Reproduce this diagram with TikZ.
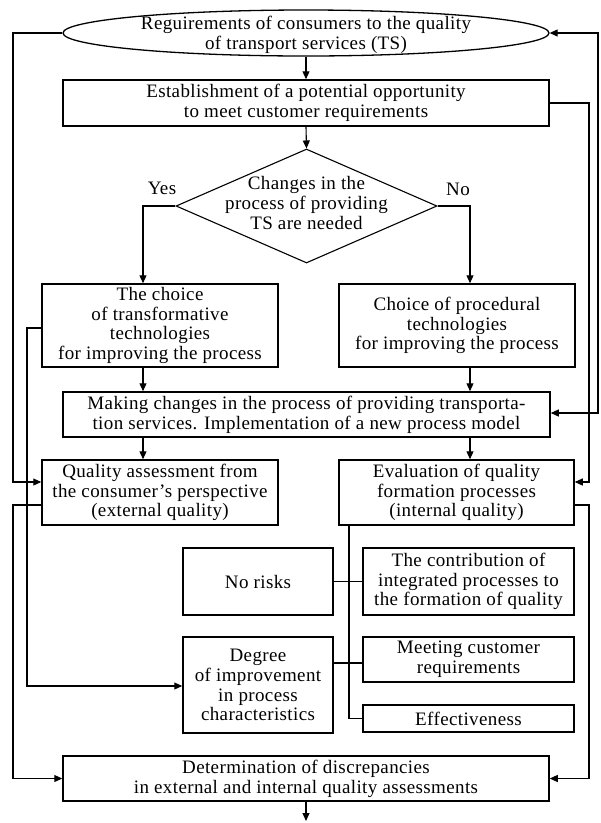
\documentclass[tikz,border=0pt]{standalone}
\usepackage{fontspec}
\setmainfont{Liberation Serif}[LetterSpace=2]
\usetikzlibrary{shapes.geometric,arrows.meta}
\begin{document}
\begin{tikzpicture}[x=1pt,y=-1pt,
  every node/.style={font=\fontsize{19}{19.8}\selectfont, align=center, inner sep=0pt},
  box/.style={draw, line width=1.5pt, rectangle},
  conn/.style={line width=1.1pt},
  arr/.style={line width=1.1pt, -{Triangle[length=8pt,width=7pt]}},
  barr/.style={line width=1.1pt, {Triangle[length=8pt,width=7pt]}-{Triangle[length=8pt,width=7pt]}}
]
\useasboundingbox (0,0) rectangle (601,823);

% nodes
\node[draw, ellipse, line width=1.3pt, minimum width=486pt, minimum height=46pt] (req) at (306,33) {};
\node (reqt) at (306,35) {Reguirements of consumers to the quality\\of transport services (TS)};

\node[box, minimum width=486pt, minimum height=46pt] (est) at (306,103)
  {Establishment of a potential opportunity\\to meet customer requirements};

\node[draw, diamond, line width=1.1pt, aspect=2.29, minimum width=261pt, minimum height=114pt] (dia) at (306.5,206) {};
\node (diat) at (306.5,203) {Changes in the\\process of providing\\TS are needed};

\node (yes) at (162,188) {Yes};
\node (no) at (458,189) {No};

\node[box, minimum width=236pt, minimum height=83pt] (choiceT) at (160,325.5)
  {The choice\\of transformative\\technologies\\for improving the process};
\node[box, minimum width=236pt, minimum height=83pt] (choiceP) at (457,325.5)
  {Choice of procedural\\technologies\\for improving the process};

\node[box, minimum width=487pt, minimum height=45pt] (making) at (306.5,414.5)
  {Making changes in the process of providing transporta-\\tion services. Implementation of a new process model};

\node[box, minimum width=236pt, minimum height=65pt] (quality) at (160,492.5)
  {Quality assessment from\\the consumer's perspective\\(external quality)};
\node[box, minimum width=235pt, minimum height=65pt] (eval) at (456.5,492.5)
  {Evaluation of quality\\formation processes\\(internal quality)};

\node[box, minimum width=150pt, minimum height=67pt] (norisk) at (258,581.5) {No risks};
\node[box, minimum width=211pt, minimum height=67pt] (contrib) at (468.5,581.5)
  {The contribution of\\integrated processes to\\the formation of quality};
\node[box, minimum width=150pt, minimum height=96pt] (degree) at (258,685)
  {Degree\\of improvement\\in process\\characteristics};
\node[box, minimum width=211pt, minimum height=45pt] (meeting) at (468.5,659.5)
  {Meeting customer\\requirements};
\node[box, minimum width=211pt, minimum height=27pt] (effect) at (468.5,718.5) {Effectiveness};

\node[box, minimum width=486pt, minimum height=45pt] (determ) at (306,778.5)
  {Determination of discrepancies\\in external and internal quality assessments};

% helper coordinates
\coordinate (xl) at (143,0);
\coordinate (xr) at (470,0);
\coordinate (xb) at (349,0);
\coordinate (lo) at (13,0);
\coordinate (li) at (27,0);
\coordinate (ri) at (589,0);
\coordinate (ro) at (598,0);
\coordinate (yq1) at (0,482);
\coordinate (yq2) at (0,505);
\coordinate (yd) at (0,686);
\coordinate (yc) at (0,328);
\coordinate (ymk) at (0,413);
\coordinate (yme) at (0,663);
\coordinate (endb) at (306,821);

% main flow
\draw[arr] (req.south) -- (est.north);
\draw[arr] (est.south) -- (dia.north);
\draw[arr] (dia.west) -| (choiceT.north -| xl);
\draw[arr] (dia.east) -| (choiceP.north -| xr);
\draw[arr] (choiceT.south -| xl) -- (making.north -| xl);
\draw[arr] (choiceP.south -| xr) -- (making.north -| xr);
\draw[arr] (making.south -| xl) -- (quality.north -| xl);
\draw[arr] (making.south -| xr) -- (eval.north -| xr);
\draw[arr] (determ.south) -- (endb);

% feedback lines
\draw[arr] (req.west) -| (lo |- yq1) -- (quality.west |- yq1);
\draw[barr] (req.east) -| (ro |- ymk) -- (making.east |- ymk);
\draw[arr] (est.east) -| (ri |- yq1) -- (eval.east |- yq1);
\draw[arr] (quality.west |- yq2) -| (lo |- determ.west) -- (determ.west);
\draw[arr] (eval.east |- yq2) -| (ri |- determ.east) -- (determ.east);
\draw[arr] (choiceT.west |- yc) -| (li |- yd) -- (degree.west |- yd);

% internal branches
\draw[conn] (eval.south -| xb) |- (effect.west);
\draw[conn] (norisk.east) -- (contrib.west);
\draw[conn] (degree.east |- yme) -- (meeting.west |- yme);
\end{tikzpicture}
\end{document}
